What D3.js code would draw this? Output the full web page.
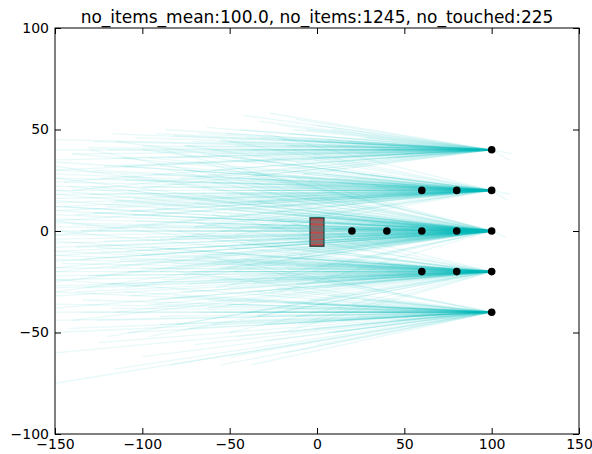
<!DOCTYPE html>
<html lang="en">
<head>
    <meta charset="UTF-8">
    <title>no_items</title>
    <script src="https://cdn.jsdelivr.net/npm/d3@7"></script>
    <style>
        body{margin:0;background:#fff;}
        text{font-family:"DejaVu Sans",sans-serif;}
    </style>
</head>
<body>
<div class="chart"></div>
<script>
    //data
    let title="no_items_mean:100.0, no_items:1245, no_touched:225"
    let xTicks=[-150,-100,-50,0,50,100,150]
    let yTicks=[-100,-50,0,50,100]
    let dotX=[100,60,80,100,20,40,60,80,100,60,80,100,100]
    let dotY=[40,20,20,20,0,0,0,0,0,-20,-20,-20,-40]
    let boxX=[-4,4]
    let boxY=[-7.5,6.5]
    let targetX=100
    let targetY=[40,20,0,-20,-40]
    // start points of the paths, one list per target
    let startsTo40=[[-131,41],[-150,35],[-150,30],[-150,24],[-122,32],[-104,46],[-82,47],[-63,51],[-42,57],[-27,58],[-33,54],[-12,55],[-6,50],[-52,48],[-71,44],[-92,39],[-112,36],[-140,20],[-60,30],[-42,34],[-22,45],[-78,26],[-101,21],[0,52],[-16,48],[-46,42],[-87,50],[-150,40],[-55,38],[-36,27],[-118,48],[-20,32],[5,45],[-8,28],
        [-150,45],[-140,38],[-128,44],[-120,40],[-110,32],[-100,42],[-92,48],[-85,36],[-76,42],[-68,48],[-62,38],[-56,44],[-48,36],[-44,50],[-38,40],[-32,46],[-26,36],[-22,52],[-16,42],[-12,34],[-6,46],[-2,38],[4,42],[8,50],[12,34],[18,44],[22,38],[28,46],[34,40],[40,36],
        [-40,46],[-30,34],[-20,45],[-10,35],[0,44],[10,36],[20,43],[30,37],[40,42],[50,38],[56,41],[-44,40],[-24,40],[-4,40],[16,40],[36,40],[-14,50],[6,30],[26,46],[46,36],
        [-50,44],[-34,38],[-18,42],[-2,36],[12,42],[24,38],[44,40],[52,42],[-60,40],[-8,44],[32,41],[60,39]]
    let startsTo20=[[-150,34],[-150,30],[-150,26],[-150,22],[-150,18],[-150,14],[-150,10],[-150,5],[-150,-2],[-140,38],[-128,30],[-120,12],[-110,25],[-100,40],[-95,8],[-90,32],[-80,18],[-75,42],[-70,2],[-62,28],[-55,45],[-50,10],[-44,36],[-38,22],[-30,48],[-26,5],[-20,30],[-14,40],[-10,12],[-5,25],[-2,35],[4,8],[-66,38],[-84,-4],[-115,44],[-135,0],[-47,-2],[-33,14],[-58,20],[-105,16],[8,30],[15,14],
        [-150,20],[-150,16],[-150,12],[-150,28],[-145,24],[-138,8],[-130,18],[-124,26],[-118,14],[-112,32],[-106,10],[-100,22],[-94,28],[-88,12],[-82,24],[-76,30],[-72,16],[-66,22],[-60,12],[-56,30],[-52,18],[-46,26],[-40,14],[-36,28],[-32,20],[-26,12],[-22,24],[-18,18],[-12,30],[-8,16],[-4,22],[0,12],[4,28],[8,20],[12,24],[18,16],[22,26],[28,18],[34,22],[-96,36],
        [-40,26],[-34,15],[-28,24],[-22,16],[-16,27],[-10,14],[-4,25],[2,15],[8,24],[14,17],[20,23],[26,16],[32,22],[38,18],[44,23],[50,17],[-46,20],[-30,20],[-14,21],[0,19],[16,20],[30,21],[-20,12],[-8,28],[6,12],[24,28],
        [-60,24],[-50,14],[-38,25],[-26,17],[-12,23],[-2,15],[10,26],[20,14],[36,24],[46,19],[54,21],[58,18],[-44,18],[-18,22],[4,20],[40,20],[-70,26],[-56,16]]
    let startsTo0=[[-150,32],[-150,26],[-150,20],[-150,15],[-150,10],[-150,6],[-150,2],[-150,-2],[-150,-6],[-150,-10],[-150,-15],[-150,-20],[-150,-25],[-150,-30],[-145,12],[-138,-8],[-130,22],[-125,0],[-118,-18],[-112,28],[-105,8],[-100,-12],[-95,18],[-90,-4],[-85,30],[-80,4],[-76,-22],[-70,14],[-65,-8],[-60,24],[-55,0],[-50,-16],[-46,10],[-40,-5],[-36,20],[-32,-12],[-28,6],[-24,-24],[-20,14],[-16,-3],[-12,26],[-8,-10],[-4,8],[0,-18],[2,16],[6,-6],[10,4],[-68,34],[-110,-28],[-88,40],[-42,30],[-58,-28],[-130,40],[-22,-30],[-98,2],[-72,-2],[-35,2],
        [-150,12],[-150,8],[-150,4],[-150,0],[-150,-4],[-150,-8],[-150,-12],[-150,18],[-150,-18],[-140,3],[-135,-14],[-128,9],[-122,-5],[-116,15],[-110,-10],[-104,5],[-98,-3],[-92,11],[-86,-9],[-80,0],[-74,7],[-70,-13],[-64,3],[-60,-5],[-54,12],[-48,-9],[-44,2],[-38,-4],[-34,9],[-30,-8],[-26,1],[-22,10],[-18,-6],[-14,3],[-10,-12],[-6,5],[-2,-3],[2,9],[6,-9],[10,1],[14,-4],[18,6],[-142,22],[-126,-22],[-108,20],[-90,-20],[-66,18],[-52,-18],[-36,15],[-16,-14],[24,-3],[30,4],
        [-40,6],[-36,-5],[-32,3],[-28,-8],[-24,9],[-20,-2],[-16,5],[-12,-6],[-8,2],[-4,-4],[0,7],[4,-7],[8,1],[12,-3],[16,5],[20,-5],[24,3],[28,-2],[32,4],[36,-4],[40,2],[44,-3],[48,3],[-30,0],[-18,-10],[-6,10],[6,-10],[-50,8],[-50,-8],[-10,0],[2,-1],[-2,1],
        [-60,4],[-56,-3],[-46,6],[-42,-7],[-26,-4],[-14,8],[-4,-9],[10,6],[18,-8],[26,7],[34,-6],[42,5],[50,-4],[54,2],[58,-2],[-34,1],[-20,3],[-8,-2],[4,3],[14,-1],[22,0],[38,0],[-70,2],[-80,-3],[-64,-12]]
    let startsToM20=[[-150,5],[-150,0],[-150,-5],[-150,-10],[-150,-14],[-150,-18],[-150,-22],[-150,-27],[-150,-32],[-150,-38],[-140,-44],[-132,-28],[-126,-8],[-115,-40],[-108,-20],[-100,2],[-94,-34],[-88,-14],[-80,-46],[-74,-26],[-68,4],[-62,-38],[-56,-18],[-50,-50],[-44,-6],[-40,-30],[-34,-42],[-28,-14],[-24,6],[-18,-36],[-12,-26],[-8,-4],[-4,-44],[0,-16],[6,-32],[10,-10],[-96,-52],[-120,-52],[-60,8],[-20,-50],[14,-24],
        [-150,-20],[-150,-24],[-150,-12],[-150,-28],[-146,-16],[-138,-30],[-131,-22],[-124,-10],[-119,-26],[-113,-14],[-107,-32],[-101,-18],[-95,-8],[-89,-24],[-83,-16],[-77,-30],[-71,-20],[-67,-10],[-61,-24],[-57,-14],[-51,-28],[-47,-20],[-41,-12],[-37,-26],[-31,-18],[-27,-30],[-21,-22],[-17,-12],[-11,-24],[-7,-18],[-3,-28],[1,-14],[5,-22],[9,-26],[13,-16],[19,-24],[23,-18],[29,-22],[35,-16],[-93,-36],
        [-42,-14],[-36,-25],[-30,-16],[-24,-24],[-18,-13],[-12,-26],[-6,-15],[0,-25],[6,-16],[12,-23],[18,-17],[24,-24],[30,-18],[36,-22],[42,-17],[48,-23],[-48,-20],[-32,-21],[-16,-19],[-2,-20],[14,-21],[28,-19],[-22,-28],[-10,-12],[4,-28],[22,-12],
        [-60,-16],[-50,-26],[-38,-15],[-26,-23],[-12,-17],[-2,-25],[10,-14],[20,-26],[36,-16],[46,-21],[54,-19],[58,-22],[-44,-22],[-18,-18],[4,-20],[40,-20],[-70,-14],[-56,-24]]
    let startsToM40=[[-150,-75],[-150,-60],[-150,-50],[-150,-44],[-150,-36],[-150,-30],[-150,-24],[-135,-40],[-125,-55],[-110,-30],[-100,-62],[-90,-46],[-80,-20],[-70,-56],[-62,-34],[-55,-66],[-50,-62],[-38,-66],[-44,-44],[-30,-54],[-24,-28],[-18,-60],[-10,-46],[-4,-34],[0,-56],[6,-24],[-84,-66],[-116,-68],[-66,-12],[10,-50],[-40,-18],
        [-150,-40],[-142,-48],[-134,-34],[-126,-44],[-118,-38],[-108,-50],[-98,-36],[-90,-42],[-82,-32],[-74,-48],[-68,-40],[-60,-46],[-52,-36],[-46,-52],[-40,-40],[-34,-30],[-28,-46],[-22,-38],[-16,-50],[-12,-42],[-6,-36],[-2,-48],[4,-40],[8,-32],[14,-44],[20,-36],[24,-46],[30,-40],[36,-34],[42,-44],
        [-40,-34],[-30,-46],[-20,-35],[-10,-45],[0,-36],[10,-44],[20,-37],[30,-43],[40,-38],[50,-42],[56,-39],[-44,-40],[-24,-40],[-4,-40],[16,-40],[36,-40],[-14,-30],[6,-50],[26,-34],[46,-44],
        [-50,-36],[-34,-42],[-18,-38],[-2,-44],[12,-38],[24,-42],[44,-40],[52,-38],[-60,-40],[-8,-36],[32,-39],[60,-41]]
    // short overshoots past a target: [targetY, endX, endY]
    let tails=[[40,110,35],[40,112,38],[20,109,15],[20,111,18],[0,108,-3]]

    //init
    let W=592,H=454
    let margin={left:55,right:13,top:28,bottom:20}
    let xScale=d3.scaleLinear().domain([-150,150]).range([margin.left,W-margin.right])
    let yScale=d3.scaleLinear().domain([-100,100]).range([H-margin.bottom,margin.top])
    let svg=d3.select('.chart').append('svg').attr('width',W).attr('height',H)
    svg.append('clipPath').attr('id','clip').append('rect')
        .attr('x',xScale(-150)).attr('y',yScale(100))
        .attr('width',xScale(150)-xScale(-150)).attr('height',yScale(-100)-yScale(100))
    let plot=svg.append('g').attr('clip-path','url(#clip)')

    //box
    plot.append('rect')
        .attr('x',xScale(boxX[0])).attr('y',yScale(boxY[1]))
        .attr('width',xScale(boxX[1])-xScale(boxX[0])).attr('height',yScale(boxY[0])-yScale(boxY[1]))
        .attr('fill','#dc3c3c').attr('stroke','#222').attr('stroke-width',1.2)

    //paths
    let groups=[startsTo40,startsTo20,startsTo0,startsToM20,startsToM40]
    let segs=[]
    groups.forEach((g,i)=>g.forEach(s=>segs.push([s[0],s[1],targetX,targetY[i]])))
    tails.forEach(t=>segs.push([targetX,t[0],t[1],t[2]]))
    plot.append('g').selectAll('line').data(segs).join('line')
        .attr('x1',d=>xScale(d[0])).attr('y1',d=>yScale(d[1]))
        .attr('x2',d=>xScale(d[2])).attr('y2',d=>yScale(d[3]))
        .attr('stroke','#00bfbf').attr('stroke-opacity',0.095).attr('stroke-width',1.3)

    //dots
    plot.append('g').selectAll('circle').data(dotX).join('circle')
        .attr('cx',d=>xScale(d)).attr('cy',(d,i)=>yScale(dotY[i])).attr('r',3.8).attr('fill','#000')

    //axis
    let tick=6
    let fmt=d3.format('d')
    svg.append('g').attr('transform','translate(0,'+yScale(-100)+')')
        .call(d3.axisBottom(xScale).tickValues(xTicks).tickSize(-tick).tickPadding(5).tickFormat(fmt))
    svg.append('g').attr('transform','translate(0,'+yScale(100)+')')
        .call(d3.axisTop(xScale).tickValues(xTicks).tickSize(-tick).tickFormat(''))
    svg.append('g').attr('transform','translate('+xScale(-150)+',0)')
        .call(d3.axisLeft(yScale).tickValues(yTicks).tickSize(-tick).tickPadding(6).tickFormat(fmt))
    svg.append('g').attr('transform','translate('+xScale(150)+',0)')
        .call(d3.axisRight(yScale).tickValues(yTicks).tickSize(-tick).tickFormat(''))
    svg.selectAll('.domain').remove()
    svg.selectAll('.tick line').attr('stroke','#000')
    svg.selectAll('.tick text').attr('font-size',14).attr('fill','#000').attr('font-family','DejaVu Sans')
    svg.append('rect')
        .attr('x',xScale(-150)).attr('y',yScale(100))
        .attr('width',xScale(150)-xScale(-150)).attr('height',yScale(-100)-yScale(100))
        .attr('fill','none').attr('stroke','#000').attr('stroke-width',1)

    //title
    svg.append('text').attr('x',(xScale(-150)+xScale(150))/2).attr('y',23)
        .attr('text-anchor','middle').attr('font-size',17).attr('fill','#000').text(title)
</script>
</body>
</html>
